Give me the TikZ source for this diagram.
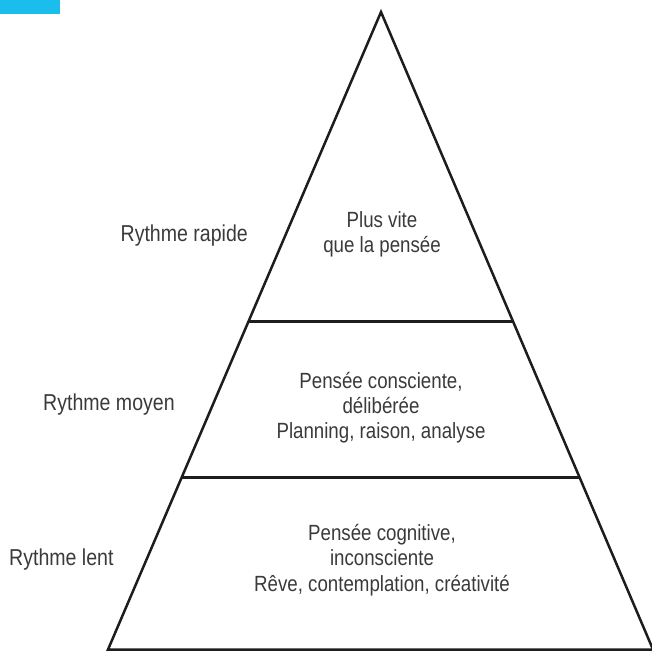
\documentclass[tikz,border=0pt]{standalone}
\usepackage{fontspec}
\setmainfont{Liberation Sans}[FakeStretch=0.85]
\usetikzlibrary{calc}
\definecolor{tabcyan}{RGB}{26,189,236}
\definecolor{txtgray}{RGB}{58,58,58}
\definecolor{linegray}{RGB}{30,28,29}
\tikzset{
  side/.style={font=\fontsize{23}{27}\selectfont, text=txtgray, inner sep=0pt},
  inner/.style={font=\fontsize{22}{26}\selectfont, text=txtgray, inner sep=0pt, anchor=base},
  pyr/.style={draw=linegray, line width=2.5pt, line join=miter},
}
\begin{document}
\begin{tikzpicture}[x=1pt,y=-1pt]
\useasboundingbox (0,0) rectangle (652,651);
\fill[tabcyan] (0,0) rectangle (60,14);
\coordinate (apex) at (381,12);
\coordinate (bl) at (108,649.5);
\coordinate (br) at (653,649.5);
\coordinate (l1) at ($(apex)!0.4858!(bl)$);
\coordinate (r1) at ($(apex)!0.4858!(br)$);
\coordinate (l2) at ($(apex)!0.7305!(bl)$);
\coordinate (r2) at ($(apex)!0.7305!(br)$);
\draw[pyr] (apex) -- (bl) -- (br) -- cycle;
\draw[pyr] (l1) -- (r1);
\draw[pyr] (l2) -- (r2);
% side labels
\node[side, anchor=base east] (rapide) at (248,241) {Rythme rapide};
\node[side, anchor=base west] (moyen) at (43,410.5) {Rythme moyen};
\node[side, anchor=base west] (lent) at (9,565) {Rythme lent};
% top level
\node[inner] (t1) at (382,227) {Plus vite};
\node[inner] (t2) at (382,252) {que la pensée};
% middle level
\node[inner] (m1) at (381,388) {Pensée consciente,};
\node[inner] (m2) at (381,413) {délibérée};
\node[inner] (m3) at (381,438) {Planning, raison, analyse};
% bottom level
\node[inner] (b1) at (382,540) {Pensée cognitive,};
\node[inner] (b2) at (382,565.5) {inconsciente};
\node[inner] (b3) at (382,591) {Rêve, contemplation, créativité};
\end{tikzpicture}
\end{document}
